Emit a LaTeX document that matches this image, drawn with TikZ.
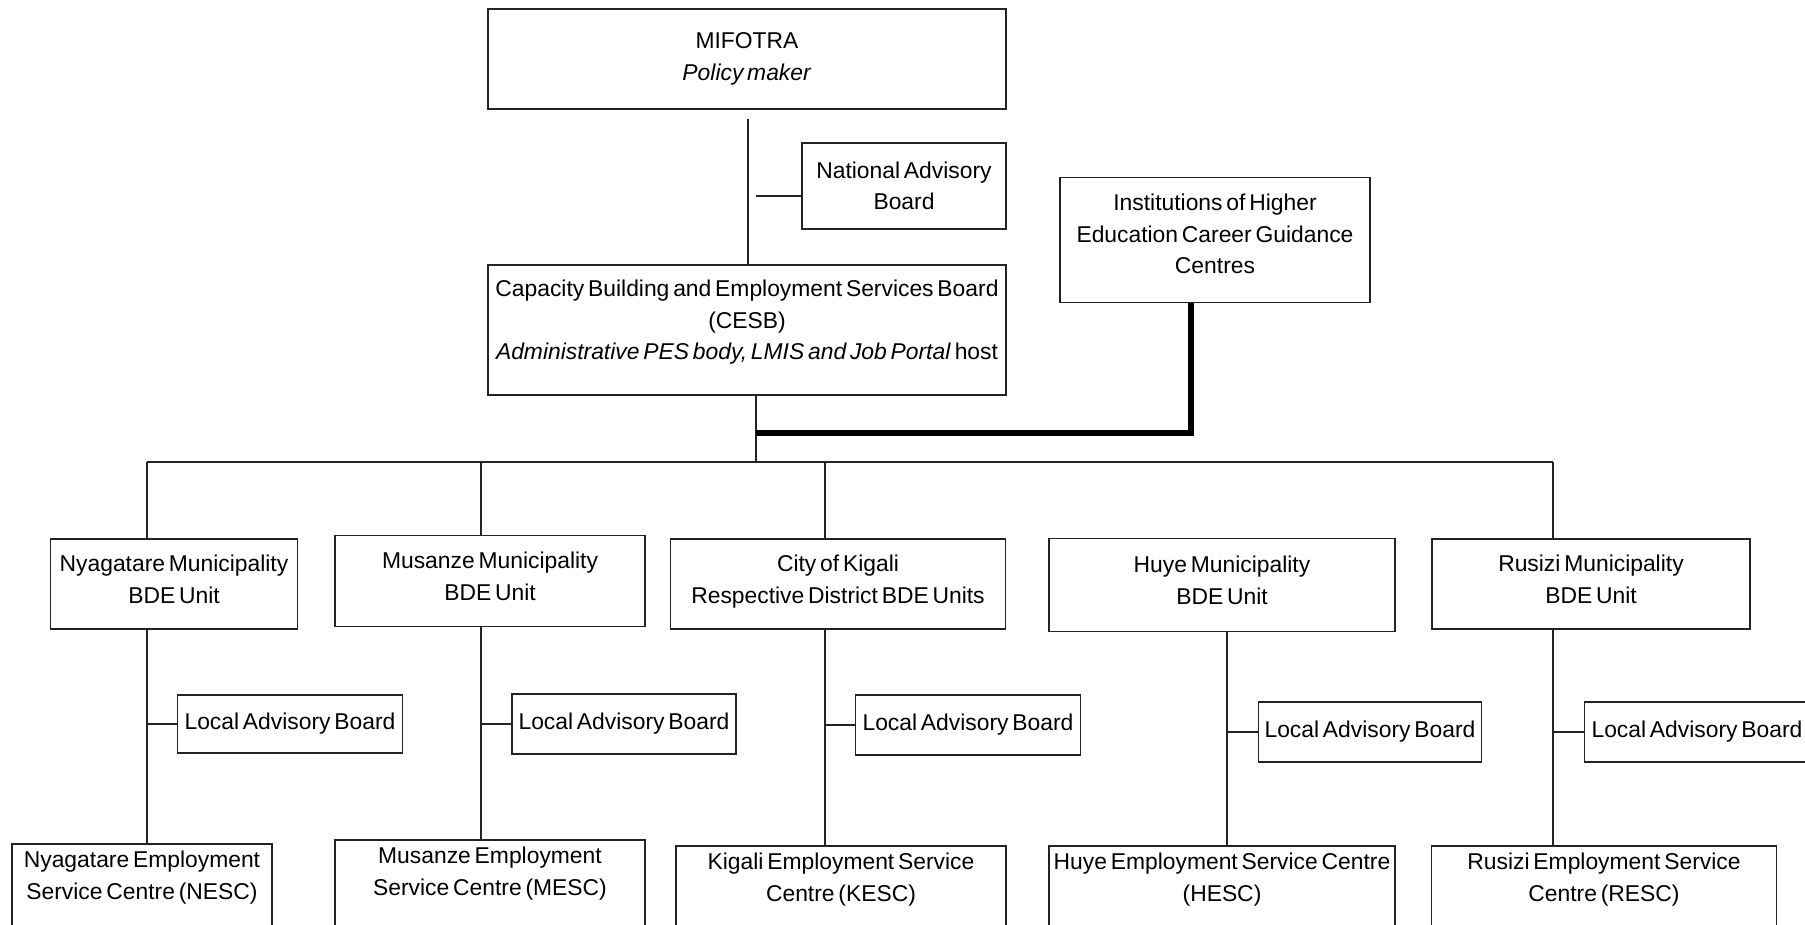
\documentclass[tikz,border=0pt]{standalone}
\usepackage{fontspec}
\setmainfont[WordSpace=0.6]{Liberation Sans}
\usepackage{tikz}
\usepackage{xcolor}
\usetikzlibrary{calc}
\definecolor{orgline}{RGB}{35,35,35}

\begin{document}
\begin{tikzpicture}[x=0.01cm,y=-0.01cm,
		box/.style={draw=orgline,line width=0.5pt,align=center,inner xsep=1pt,inner ysep=2pt,font=\fontsize{6.5}{9}\selectfont},
		munibox/.style={box,text depth=0.1cm},
		escbox/.style={box,anchor=north,text depth=0.6cm},
		link/.style={draw=orgline,line width=0.4pt}]
		\useasboundingbox (0,0) rectangle (1805,925);
		% top level
		\node[box,minimum width=5.18cm,minimum height=1.00cm] (mifotra) at (747,59) {MIFOTRA\\ \textit{Policy maker}};
		\node[box,minimum width=2.04cm,minimum height=0.86cm] (nab) at (904,186) {National Advisory\\ Board};
		\node[box,minimum width=5.18cm,minimum height=1.30cm,text depth=0.2cm] (cesb) at (747,330) {Capacity Building and Employment Services Board\\ (CESB)\\ \textit{Administrative PES body, LMIS and Job Portal} host};
		\node[box,minimum width=3.10cm,minimum height=1.25cm,text depth=0.12cm] (ihe) at (1215,240) {Institutions of Higher\\ Education Career Guidance\\ Centres};
		\coordinate (spine) at (748,119);
		\coordinate (nabx) at (756,196);
		\coordinate (hub) at (756,462);
		\coordinate (ihedrop) at (1191,433);
		\draw[link] (spine) -- (spine |- cesb.north);
		\draw[link] (nabx -| nab.west) -- (nabx);
		\draw[link] (cesb.south -| hub) -- (hub);
		\draw[black,line width=1.5pt] (ihe.south -| ihedrop) -- (ihedrop) -- (ihedrop -| hub);
		% municipalities
		\node[munibox,minimum width=2.47cm,minimum height=0.90cm] (nyag) at (174,584) {Nyagatare Municipality\\ BDE Unit};
		\node[munibox,minimum width=3.10cm,minimum height=0.91cm] (mus) at (490,581) {Musanze Municipality\\ BDE Unit};
		\node[munibox,minimum width=3.35cm,minimum height=0.90cm] (kig) at (838,584) {City of Kigali\\ Respective District BDE Units};
		\node[munibox,minimum width=3.46cm,minimum height=0.93cm] (huye) at (1222,585) {Huye Municipality\\ BDE Unit};
		\node[munibox,minimum width=3.18cm,minimum height=0.90cm] (rus) at (1591,584) {Rusizi Municipality\\ BDE Unit};
		\coordinate (b1) at (147,462);
		\coordinate (b2) at (481,462);
		\coordinate (b3) at (825,462);
		\coordinate (b4) at (1227,462);
		\coordinate (b5) at (1553,462);
		\draw[link] (b1) -- (b5);
		\draw[link] (b1) -- (b1 |- nyag.north);
		\draw[link] (b2) -- (b2 |- mus.north);
		\draw[link] (b3) -- (b3 |- kig.north);
		\draw[link] (b5) -- (b5 |- rus.north);
		% local advisory boards
		\node[box,minimum width=2.25cm,minimum height=0.58cm] (lab1) at (290,724) {Local Advisory Board};
		\node[box,minimum width=2.24cm,minimum height=0.60cm] (lab2) at (624,724) {Local Advisory Board};
		\node[box,minimum width=2.25cm,minimum height=0.60cm] (lab3) at (968,725) {Local Advisory Board};
		\node[box,minimum width=2.23cm,minimum height=0.60cm] (lab4) at (1370,732) {Local Advisory Board};
		\node[box,minimum width=2.25cm,minimum height=0.60cm] (lab5) at (1697,732) {Local Advisory Board};
		% employment service centres
		\node[escbox,minimum width=2.60cm] (nesc) at (142,843) {Nyagatare Employment\\ Service Centre (NESC)};
		\node[escbox,minimum width=3.10cm] (mesc) at (490,839) {Musanze Employment\\ Service Centre (MESC)};
		\node[escbox,minimum width=3.30cm] (kesc) at (841,845) {Kigali Employment Service\\ Centre (KESC)};
		\node[escbox,minimum width=3.46cm] (hesc) at (1222,845) {Huye Employment Service Centre\\ (HESC)};
		\node[escbox,minimum width=3.45cm] (resc) at (1604,845) {Rusizi Employment Service\\ Centre (RESC)};
		\draw[link] (b1 |- nyag.south) -- (b1 |- nesc.north);
		\draw[link] (b2 |- mus.south) -- (b2 |- mesc.north);
		\draw[link] (b3 |- kig.south) -- (b3 |- kesc.north);
		\draw[link] (b4 |- huye.south) -- (b4 |- hesc.north);
		\draw[link] (b5 |- rus.south) -- (b5 |- resc.north);
		\draw[link] (lab1.west) -- (lab1.west -| b1);
		\draw[link] (lab2.west) -- (lab2.west -| b2);
		\draw[link] (lab3.west) -- (lab3.west -| b3);
		\draw[link] (lab4.west) -- (lab4.west -| b4);
		\draw[link] (lab5.west) -- (lab5.west -| b5);
\end{tikzpicture}
\end{document}
